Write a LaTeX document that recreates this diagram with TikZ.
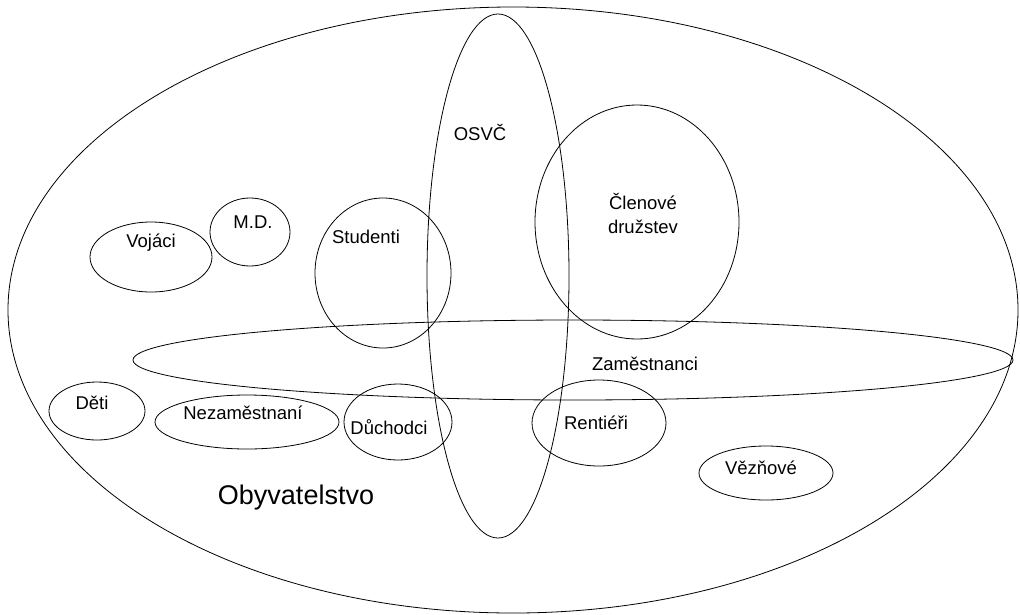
\documentclass[tikz,border=0pt]{standalone}
\usepackage{fontspec}
\setmainfont{Liberation Sans}
\usetikzlibrary{shapes.geometric}
\begin{document}
\begin{tikzpicture}[x=1pt, y=-1pt,
  set/.style={draw, ellipse, line width=0.8pt, inner sep=0pt},
  lbl/.style={inner sep=0pt, font=\fontsize{18.5}{24}\selectfont}]
\useasboundingbox (0,0) rectangle (1020,614);
% sets
\node[set, minimum width=1010pt, minimum height=606pt] (obyv) at (513,310) {};
\node[set, minimum width=142pt, minimum height=524pt] (osvc) at (498,276) {};
\node[set, minimum width=880pt, minimum height=80pt] (zam) at (573,360) {};
\node[set, minimum width=136pt, minimum height=150pt] (stud) at (383,273) {};
\node[set, minimum width=204pt, minimum height=234pt] (clen) at (637,222) {};
\node[set, minimum width=122pt, minimum height=70pt] (voj) at (151,257) {};
\node[set, minimum width=80pt, minimum height=68pt] (md) at (250,232) {};
\node[set, minimum width=96pt, minimum height=58pt] (deti) at (97,411) {};
\node[set, minimum width=184pt, minimum height=54pt] (nezam) at (247,422) {};
\node[set, minimum width=108pt, minimum height=76pt] (duch) at (398,422) {};
\node[set, minimum width=134pt, minimum height=86pt] (rent) at (599,423) {};
\node[set, minimum width=134pt, minimum height=54pt] (vez) at (766,473) {};
% labels
\node[lbl] (tosvc) at (480,133) {OSVČ};
\node[lbl] (tstud) at (366,237) {Studenti};
\node[lbl, align=center] (tclen) at (643,213) {Členové\\družstev};
\node[lbl] (tzam) at (645,364) {Zaměstnanci};
\node[lbl] (tvoj) at (151,243) {Vojáci};
\node[lbl] (tmd) at (253,222) {M.D.};
\node[lbl] (tdeti) at (92,403) {Děti};
\node[lbl] (tnezam) at (243,413) {Nezaměstnaní};
\node[lbl] (tduch) at (389,427) {Důchodci};
\node[lbl] (trent) at (596,423) {Rentiéři};
\node[lbl] (tvez) at (761,468) {Vězňové};
\node[inner sep=0pt, font=\fontsize{27}{32}\selectfont] (tobyv) at (296,498) {Obyvatelstvo};
\end{tikzpicture}
\end{document}
